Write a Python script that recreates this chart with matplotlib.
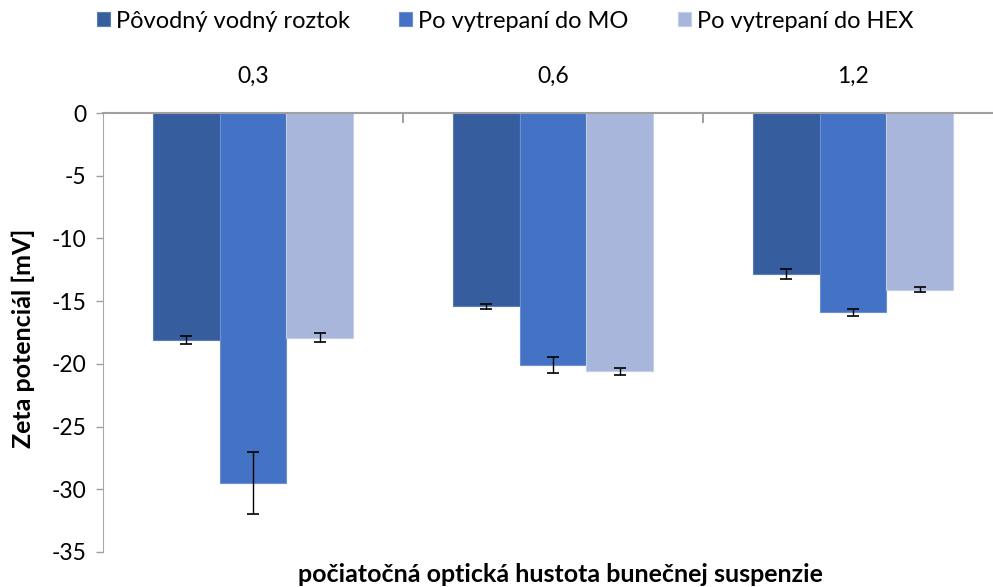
import matplotlib.pyplot as plt
import numpy as np

plt.rcParams['font.family'] = ['Lato', 'DejaVu Sans']
plt.rcParams['axes.unicode_minus'] = False

categories = ["0,3", "0,6", "1,2"]
series_names = ["Pôvodný vodný roztok", "Po vytrepaní do MO", "Po vytrepaní do HEX"]
povodny = [-18.1, -15.4, -12.8]
mo = [-29.5, -20.1, -15.9]
hex_ = [-17.9, -20.6, -14.1]
povodny_err = [0.3, 0.2, 0.4]
mo_err = [2.5, 0.65, 0.3]
hex_err = [0.35, 0.25, 0.2]

colors = ["#365E9F", "#4472C4", "#A8B6DB"]
edges = ["#5B7DB5", "#6A8FD2", "#C3CEE8"]

fig = plt.figure(figsize=(9.93, 5.87), dpi=100)
ax = fig.add_axes([103 / 993, 1 - 552 / 587, 900 / 993, 439 / 587])

x = np.arange(len(categories))
width = 0.222
values = [povodny, mo, hex_]
errors = [povodny_err, mo_err, hex_err]

for i, (vals, errs) in enumerate(zip(values, errors)):
    pos = x + (i - 1) * width
    ax.bar(pos, vals, width, color=colors[i], edgecolor=edges[i], linewidth=0.8,
           label=series_names[i], zorder=2)
    ax.errorbar(pos, vals, yerr=errs, fmt="none", ecolor="black", elinewidth=1,
                capsize=4.5, capthick=1.2, zorder=3)

ax.set_xlim(-0.5, 2.5)
ax.set_ylim(-35, 0)
ax.set_yticks(np.arange(-35, 1, 5))
ax.tick_params(axis="y", labelsize=16.5, length=5, color="#A0A0A0", width=1, pad=7)

ax.xaxis.tick_top()
ax.set_xticks([0.5, 1.5])
ax.set_xticklabels([])
ax.tick_params(axis="x", which="major", direction="in", length=7, color="#909090", width=1.2)
ax.set_xticks(x, minor=True)
ax.set_xticklabels(categories, minor=True)
ax.tick_params(axis="x", which="minor", length=0, labelsize=16.5, pad=19)

for s in ["bottom", "right"]:
    ax.spines[s].set_visible(False)
ax.spines["left"].set_color("#A8A8A8")
ax.spines["top"].set_color("#A0A0A0")
ax.spines["top"].set_linewidth(1.5)

fig.text(23 / 993, 1 - 338 / 587, "Zeta potenciál [mV]", rotation=90,
         ha="center", va="center", fontsize=18, fontweight="bold")
fig.text(560 / 993, 1 - 574 / 587, "počiatočná optická hustota bunečnej suspenzie",
         ha="center", va="center", fontsize=18, fontweight="bold")

fig.legend(loc="center", bbox_to_anchor=(505 / 993, 1 - 21 / 587), ncol=3, frameon=False,
           fontsize=17, handlelength=0.55, handleheight=0.55, handletextpad=0.25,
           columnspacing=2.1)

fig.savefig("out.png", dpi=100)
